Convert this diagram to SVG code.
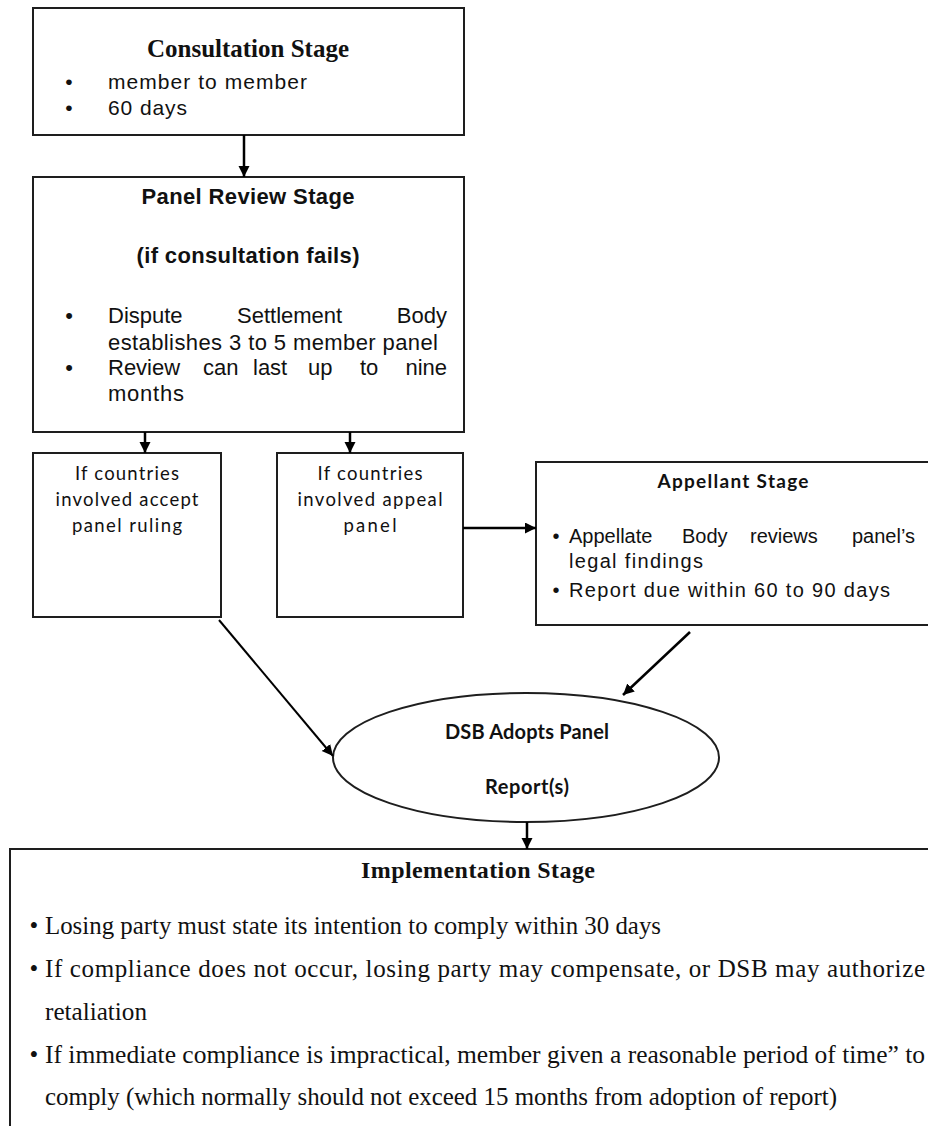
<svg xmlns="http://www.w3.org/2000/svg" width="928" height="1126" viewBox="0 0 928 1126">
<style>
.box{fill:#fff;stroke:#1e1e1e;stroke-width:2}
.conn{stroke:#000;stroke-width:2.5;fill:none}
.thin{stroke:#000;stroke-width:2;fill:none}
.serifb{font-family:"Liberation Serif","Times New Roman",serif;font-weight:bold;fill:#111}
.serif{font-family:"Liberation Serif","Times New Roman",serif;fill:#111}
.sans{font-family:"Liberation Sans",Arial,sans-serif;fill:#111}
.sansb{font-family:"Liberation Sans",Arial,sans-serif;font-weight:bold;fill:#111}
.cal{font-family:Lato,"Open Sans",sans-serif;fill:#111}
.calb{font-family:Lato,"Open Sans",sans-serif;font-weight:bold;fill:#111}
</style>
<defs>
<marker id="ah" markerUnits="userSpaceOnUse" markerWidth="12" markerHeight="12" refX="11" refY="5.5" orient="auto">
<path d="M0,0 L11,5.5 L0,11 z" fill="#000"/>
</marker>
</defs>
<rect width="928" height="1126" fill="#fff"/>

<g id="consultation">
<rect class="box" x="33" y="8" width="431" height="127"/>
<text class="serifb" x="248" y="57" font-size="25" text-anchor="middle" textLength="202" lengthAdjust="spacingAndGlyphs">Consultation Stage</text>
<text class="sans" x="69" y="89" font-size="21" text-anchor="middle">•</text>
<text class="sans" x="108" y="89" font-size="21" textLength="199" lengthAdjust="spacing">member to member</text>
<text class="sans" x="69" y="115" font-size="21" text-anchor="middle">•</text>
<text class="sans" x="108" y="115" font-size="21" textLength="79" lengthAdjust="spacing">60 days</text>
</g>

<g id="panel">
<rect class="box" x="33" y="177" width="431" height="255"/>
<text class="sansb" x="248" y="204" font-size="22" text-anchor="middle" textLength="213" lengthAdjust="spacing">Panel Review Stage</text>
<text class="sansb" x="248" y="263" font-size="22" text-anchor="middle" textLength="223" lengthAdjust="spacing">(if consultation fails)</text>
<text class="sans" x="69" y="323" font-size="22" text-anchor="middle">•</text>
<text class="sans" y="323" font-size="22" x="108">Dispute</text>
<text class="sans" y="323" font-size="22" x="237">Settlement</text>
<text class="sans" y="323" font-size="22" x="447" text-anchor="end">Body</text>
<text class="sans" x="108" y="350" font-size="22" textLength="330" lengthAdjust="spacing">establishes 3 to 5 member panel</text>
<text class="sans" x="69" y="375" font-size="22" text-anchor="middle">•</text>
<text class="sans" y="375" font-size="22"><tspan x="108">Review</tspan><tspan x="203">can</tspan><tspan x="253">last</tspan><tspan x="308">up</tspan><tspan x="360">to</tspan></text>
<text class="sans" y="375" font-size="22" x="447" text-anchor="end">nine</text>
<text class="sans" x="108" y="401" font-size="22" textLength="76" lengthAdjust="spacing">months</text>
</g>

<g id="accept">
<rect class="box" x="33" y="453" width="188" height="164"/>
<text class="cal" x="127" y="480" font-size="18.5" text-anchor="middle" textLength="104" lengthAdjust="spacing">If countries</text>
<text class="cal" x="127" y="506" font-size="18.5" text-anchor="middle" textLength="143" lengthAdjust="spacing">involved accept</text>
<text class="cal" x="127" y="532" font-size="18.5" text-anchor="middle" textLength="110" lengthAdjust="spacing">panel ruling</text>
</g>

<g id="appeal">
<rect class="box" x="277" y="453" width="186" height="164"/>
<text class="cal" x="370" y="480" font-size="18.5" text-anchor="middle" textLength="105" lengthAdjust="spacing">If countries</text>
<text class="cal" x="370" y="506" font-size="18.5" text-anchor="middle" textLength="145" lengthAdjust="spacing">involved appeal</text>
<text class="cal" x="370" y="532" font-size="18.5" text-anchor="middle" textLength="53" lengthAdjust="spacing">panel</text>
</g>

<g id="appellant">
<rect class="box" x="536" y="462" width="404" height="163"/>
<text class="calb" x="733" y="488" font-size="19" text-anchor="middle" textLength="151" lengthAdjust="spacing">Appellant Stage</text>
<text class="sans" x="556" y="543" font-size="20" text-anchor="middle">•</text>
<text class="sans" y="543" font-size="20"><tspan x="569">Appellate</tspan><tspan x="682">Body</tspan><tspan x="750">reviews</tspan></text>
<text class="sans" y="543" font-size="20" x="915" text-anchor="end">panel’s</text>
<text class="sans" x="569" y="568" font-size="20" textLength="134" lengthAdjust="spacing">legal findings</text>
<text class="sans" x="556" y="597" font-size="20" text-anchor="middle">•</text>
<text class="sans" x="569" y="597" font-size="20" textLength="321" lengthAdjust="spacing">Report due within 60 to 90 days</text>
</g>

<g id="dsb">
<ellipse class="box" cx="526" cy="757.5" rx="193" ry="64.5"/>
<text class="calb" x="527" y="739" font-size="20" text-anchor="middle" textLength="164" lengthAdjust="spacing">DSB Adopts Panel</text>
<text class="calb" x="527" y="794" font-size="20" text-anchor="middle" textLength="84" lengthAdjust="spacing">Report(s)</text>
</g>

<g id="implementation">
<rect class="box" x="10" y="849" width="930" height="300"/>
<text class="serifb" x="478" y="878" font-size="24" text-anchor="middle" textLength="234" lengthAdjust="spacing">Implementation Stage</text>
<text class="serif" x="34" y="934" font-size="25" text-anchor="middle">•</text>
<text class="serif" x="45" y="934" font-size="25" textLength="616" lengthAdjust="spacingAndGlyphs">Losing party must state its intention to comply within 30 days</text>
<text class="serif" x="34" y="977" font-size="25" text-anchor="middle">•</text>
<text class="serif" x="45" y="977" font-size="25" textLength="880" lengthAdjust="spacing">If compliance does not occur, losing party may compensate, or DSB may authorize</text>
<text class="serif" x="45" y="1020" font-size="25" textLength="102" lengthAdjust="spacingAndGlyphs">retaliation</text>
<text class="serif" x="34" y="1063" font-size="25" text-anchor="middle">•</text>
<text class="serif" x="45" y="1063" font-size="25" textLength="880" lengthAdjust="spacingAndGlyphs">If immediate compliance is impractical, member given a reasonable period of time” to</text>
<text class="serif" x="45" y="1105" font-size="25" textLength="792" lengthAdjust="spacingAndGlyphs">comply (which normally should not exceed 15 months from adoption of report)</text>
</g>

<g id="connectors">
<line class="conn" x1="244" y1="135" x2="244" y2="177" marker-end="url(#ah)"/>
<line class="conn" x1="145" y1="432" x2="145" y2="453" marker-end="url(#ah)"/>
<line class="conn" x1="350" y1="432" x2="350" y2="453" marker-end="url(#ah)"/>
<line class="conn" x1="463" y1="528" x2="536" y2="528" marker-end="url(#ah)"/>
<line class="thin" x1="219" y1="620" x2="333" y2="756" marker-end="url(#ah)"/>
<line class="conn" x1="690" y1="632" x2="623" y2="695" marker-end="url(#ah)"/>
<line class="conn" x1="527" y1="822" x2="527" y2="849" marker-end="url(#ah)"/>
</g>
</svg>
